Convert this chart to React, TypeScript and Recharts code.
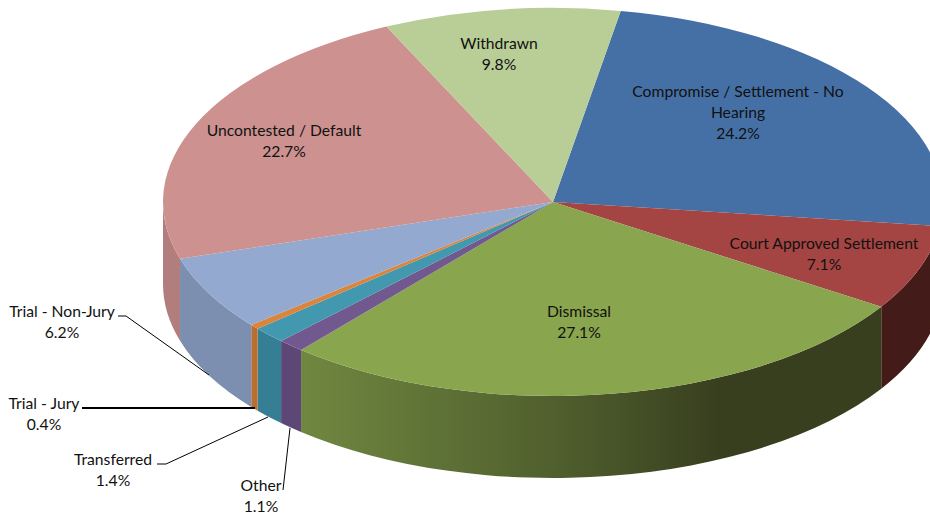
import { PieChart, Pie } from "recharts";

const categories = [
  "Compromise / Settlement - No Hearing",
  "Court Approved Settlement",
  "Dismissal",
  "Other",
  "Transferred",
  "Trial - Jury",
  "Trial - Non-Jury",
  "Uncontested / Default",
  "Withdrawn",
];
const shares = [24.2, 7.1, 27.1, 1.1, 1.4, 0.4, 6.2, 22.7, 9.8];

const TOP_COLORS = ["#4570a5", "#a54543", "#89a54e", "#71588f", "#4198af", "#db843d", "#93a9cf", "#cd9190", "#b9cd96"];
const WALL_COLORS = ["#34557d", "#431b19", "#383f1f", "#5c4776", "#357e94", "#b96e32", "#7c8fb1", "#b27e7d", "#9aab7d"];

// the dismissal wall is the only one with a visible light falloff
const DISMISSAL_STOPS = [
  { at: 0, color: "#708740" },
  { at: 0.45, color: "#4f5e2d" },
  { at: 0.72, color: "#383f1f" },
  { at: 1, color: "#383f1f" },
];

const TILT = 194 / 390;
const DEPTH = 82;

// label lines + centre x + first line y
const LABELS = [
  { x: 738, y: 91, lines: ["Compromise / Settlement - No", "Hearing"] },
  { x: 824, y: 243, lines: ["Court Approved Settlement"] },
  { x: 579, y: 311, lines: ["Dismissal"] },
  { x: 261, y: 485, lines: ["Other"] },
  { x: 113, y: 459, lines: ["Transferred"] },
  { x: 44, y: 403, lines: ["Trial - Jury"] },
  { x: 62, y: 311, lines: ["Trial - Non-Jury"] },
  { x: 284, y: 130, lines: ["Uncontested / Default"] },
  { x: 499, y: 43, lines: ["Withdrawn"] },
];

const LEADERS: Record<string, { points: string; width: number }> = {
  Other: { points: "283,490 290,428", width: 1 },
  Transferred: { points: "157,464 166,464 268,417", width: 1 },
  "Trial - Jury": { points: "82,408 255,408", width: 2 },
  "Trial - Non-Jury": { points: "118,316 126,316 209,375", width: 1 },
};

const chartData = categories.map((name, i) => ({ name, value: shares[i] }));

function renderSlice(props: any) {
  const { cx, cy, outerRadius: r, startAngle, endAngle, name } = props;
  const idx = categories.indexOf(name);
  const pt = (deg: number) => {
    const rad = (deg * Math.PI) / 180;
    return [cx + r * Math.cos(rad), cy - r * TILT * Math.sin(rad)];
  };
  const [x1, y1] = pt(startAngle);
  const [x2, y2] = pt(endAngle);
  const ry = r * TILT;
  const top = `M${cx},${cy} L${x1},${y1} A${r},${ry} 0 0 1 ${x2},${y2} Z`;

  // only the part of the rim on the front half of the ellipse has a visible wall
  const hi = Math.min(startAngle, 0);
  const lo = Math.max(endAngle, -180);
  let wall = null;
  if (hi > lo) {
    const [wx1, wy1] = pt(hi);
    const [wx2, wy2] = pt(lo);
    const d =
      `M${wx1},${wy1} A${r},${ry} 0 0 1 ${wx2},${wy2} L${wx2},${wy2 + DEPTH} ` +
      `A${r},${ry} 0 0 0 ${wx1},${wy1 + DEPTH} Z`;
    const isDismissal = name === "Dismissal";
    wall = (
      <>
        {isDismissal && (
          <linearGradient id="dismissalWall" gradientUnits="userSpaceOnUse" x1={wx2} x2={wx1} y1={0} y2={0}>
            {DISMISSAL_STOPS.map((s) => (
              <stop key={s.at} offset={s.at} stopColor={s.color} />
            ))}
          </linearGradient>
        )}
        <path d={d} fill={isDismissal ? "url(#dismissalWall)" : WALL_COLORS[idx]} />
      </>
    );
  }
  return (
    <g>
      {wall}
      <path d={top} fill={TOP_COLORS[idx]} />
    </g>
  );
}

function renderLabel(props: any) {
  const idx = categories.indexOf(props.name);
  const place = LABELS[idx];
  const leader = LEADERS[props.name];
  const rows = [...place.lines, `${shares[idx].toFixed(1)}%`];
  return (
    <g key={props.name}>
      {leader && <polyline points={leader.points} fill="none" stroke="#000" strokeWidth={leader.width} />}
      <text x={place.x} y={place.y} textAnchor="middle" fontFamily="Lato, sans-serif" fontSize={15.7} fill="#111">
        {rows.map((row, i) => (
          <tspan key={i} x={place.x} y={place.y + i * 21.2} dominantBaseline="central">
            {row}
          </tspan>
        ))}
      </text>
    </g>
  );
}

export default function App() {
  return (
    <div style={{ position: "absolute", left: 0, top: 0, width: 930, height: 514, overflow: "hidden", background: "#fff" }}>
      <PieChart width={930} height={514} margin={{ top: 0, right: 0, bottom: 0, left: 0 }}>
        <Pie
          data={chartData}
          dataKey="value"
          nameKey="name"
          cx={553}
          cy={202}
          innerRadius={0}
          outerRadius={390}
          startAngle={80}
          endAngle={-280}
          stroke="none"
          shape={renderSlice}
          label={renderLabel}
          labelLine={false}
          isAnimationActive={false}
        />
      </PieChart>
    </div>
  );
}
